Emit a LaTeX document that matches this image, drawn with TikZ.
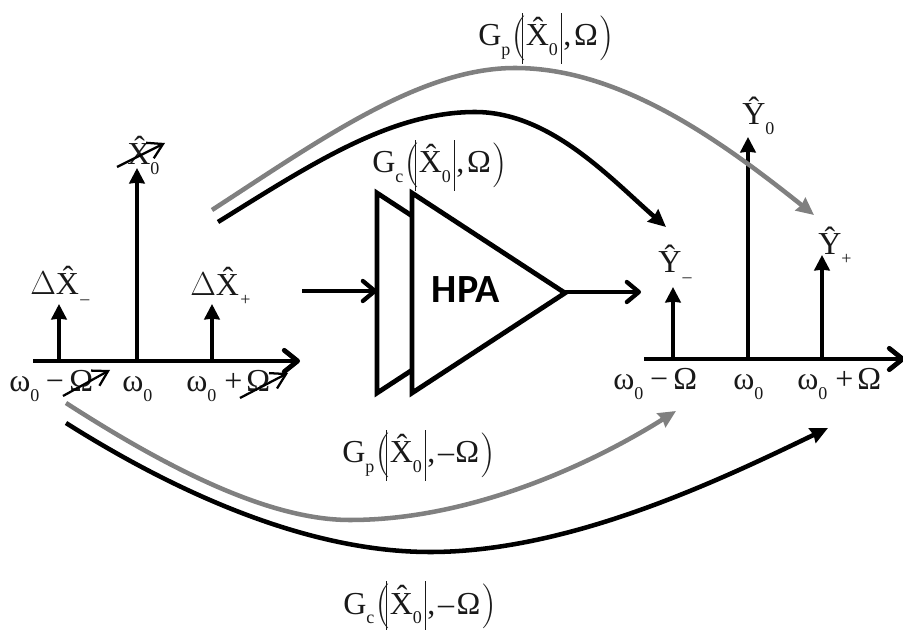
\documentclass[tikz,border=0pt]{standalone}
\usepackage{fontspec}
\usepackage{graphicx}
\setmainfont{Liberation Serif}
\newfontfamily\hpafont{Carlito}
\usetikzlibrary{arrows.meta}
\newcommand{\lowtxt}[1]{\raisebox{-0.3em}{\fontsize{13.5}{14}\selectfont #1}}
\newcommand{\hatX}{\^X}
\newcommand{\hatY}{\^Y}
\newcommand{\bigparen}[1]{\raisebox{-3pt}{\scalebox{1.25}[1.35]{$\Bigg#1$}}}
\newcommand{\bigbar}{\raisebox{-13.5pt}{\rule{0.6pt}{38pt}}}
\newcommand{\gainlabel}[2]{G\lowtxt{#1}\kern1pt\bigparen{(}\kern-3pt\bigbar\kern2pt\hatX\lowtxt{0}\kern2.5pt\bigbar\kern1pt,\kern2pt#2\kern0.5pt\bigparen{)}}
\newcommand{\minuslabel}{ω\lowtxt{0}\kern5pt−\kern4ptΩ}
\newcommand{\pluslabel}{ω\lowtxt{0}\kern6pt+\kern3ptΩ}
\tikzset{
  x=0.75pt,y=-0.75pt,
  txt/.style={inner sep=0pt,anchor=base west,font=\fontsize{24}{26}\selectfont,text=black!90},
  gain/.style={inner sep=0pt,anchor=base west,font=\fontsize{24}{26}\selectfont,text=black!90},
  stem/.style={line width=3.4pt,-{Stealth[length=11.5pt,width=11.5pt,inset=0.5pt]}},
  axisline/.style={line width=3.6pt,-{Straight Barb[length=10pt,width=16pt,line width=3.6pt,round]}},
  flow/.style={line width=3.2pt,-{Straight Barb[length=9pt,width=15pt,line width=3.2pt,round]}},
  curvea/.style={line width=3.4pt,-{Stealth[length=13pt,width=12pt,inset=1pt]}},
  cross/.style={line width=1.7pt,-{Straight Barb[length=11pt,width=13pt,line width=1.7pt]}},
  amp/.style={draw=black,line width=3.6pt,fill=white,miter limit=20},
  grayline/.style={draw=black!50,color=black!50},
}
\begin{document}
\begin{tikzpicture}
\useasboundingbox (0,0) rectangle (903,630);
% anchors
\coordinate (laL) at (33,361); \coordinate (laR) at (300,361);
\coordinate (lm) at (59,361); \coordinate (lmT) at (59,304);
\coordinate (lc) at (137,361); \coordinate (lcT) at (137,168);
\coordinate (lp) at (212,361); \coordinate (lpT) at (212,304);
\coordinate (raL) at (644,359); \coordinate (raR) at (905,359);
\coordinate (rm) at (673,359); \coordinate (rmT) at (673,287);
\coordinate (rc) at (748,359); \coordinate (rcT) at (748,137);
\coordinate (rp) at (822,359); \coordinate (rpT) at (822,255);
\coordinate (inS) at (302,291);
\coordinate (outE) at (641,292);
\coordinate (gpS) at (212,210); \coordinate (gpE) at (814,215);
\coordinate (gcS) at (218,222); \coordinate (gcE) at (666,227);
\coordinate (gpbS) at (66,403); \coordinate (gpbE) at (676,411);
\coordinate (gcbS) at (66,423); \coordinate (gcbE) at (828,428);
% axes and stems
\draw[axisline] (laL) -- (laR);
\draw[axisline] (raL) -- (raR);
\draw[stem] (lm) -- (lmT);
\draw[stem] (lc) -- (lcT);
\draw[stem] (lp) -- (lpT);
\draw[stem] (rm) -- (rmT);
\draw[stem] (rc) -- (rcT);
\draw[stem] (rp) -- (rpT);
% amplifier
\draw[amp] (377,193) -- (530,293) -- (377,393) -- cycle;
\draw[amp] (412,193) -- (565,293) -- (412,393) -- cycle;
\coordinate (ampin) at (377,291);
\coordinate (ampout) at (565,292);
\node[inner sep=0pt,font=\hpafont\bfseries\fontsize{30}{32}\selectfont] (hpa) at (466,290) {HPA};
\draw[flow] (inS) -- (ampin);
\draw[flow] (ampout) -- (outE);
% curves
\draw[curvea,grayline] (gpS) .. controls (320,140) and (420,68) .. (515,68) .. controls (620,68) and (720,140) .. (gpE);
\draw[curvea] (gcS) .. controls (310,165) and (390,112) .. (475,112) .. controls (550,112) and (610,178) .. (gcE);
\draw[curvea,grayline] (gpbS) .. controls (170,470) and (270,520) .. (350,520) .. controls (470,520) and (590,465) .. (gpbE);
\draw[curvea] (gcbS) .. controls (180,495) and (310,552) .. (430,552) .. controls (570,552) and (720,480) .. (gcbE);
% labels
\node[txt] (x0) at (127,165) {\hatX\lowtxt{0}};
\node[txt] (xm) at (30,295) {$\Delta$\hatX\lowtxt{\kern1pt –}};
\node[txt] (xp) at (190,296) {$\Delta$\hatX\lowtxt{\kern1pt +}};
\node[txt] (lwm) at (9,392) {\minuslabel};
\node[txt] (lw0) at (122,392) {ω\lowtxt{0}};
\node[txt] (lwp) at (186,392) {\pluslabel};
\node[txt] (y0) at (742,125) {\hatY\lowtxt{0}};
\node[txt] (ym) at (658,273) {\hatY\lowtxt{\kern1pt –}};
\node[txt] (yp) at (818,255) {\hatY\lowtxt{+}};
\node[txt] (rwm) at (613,390) {\minuslabel};
\node[txt] (rw0) at (733,390) {ω\lowtxt{0}};
\node[txt] (rwp) at (797,390) {\pluslabel};
\node[gain] (gp1) at (478,46) {\gainlabel{p}{Ω}};
\node[gain] (gc1) at (372,173) {\gainlabel{c}{Ω}};
\node[gain] (gp2) at (342,463) {\gainlabel{p}{–\kern1ptΩ}};
\node[gain] (gc2) at (343,614) {\gainlabel{c}{–\kern2ptΩ}};
% strike-through arrows
\coordinate (c1s) at (117,167); \coordinate (c1e) at (165,143);
\coordinate (c2s) at (63,396); \coordinate (c2e) at (110,370);
\coordinate (c3s) at (240,398); \coordinate (c3e) at (288,373);
\draw[cross] (c1s) -- (c1e);
\draw[cross] (c2s) -- (c2e);
\draw[cross] (c3s) -- (c3e);
\end{tikzpicture}
\end{document}
